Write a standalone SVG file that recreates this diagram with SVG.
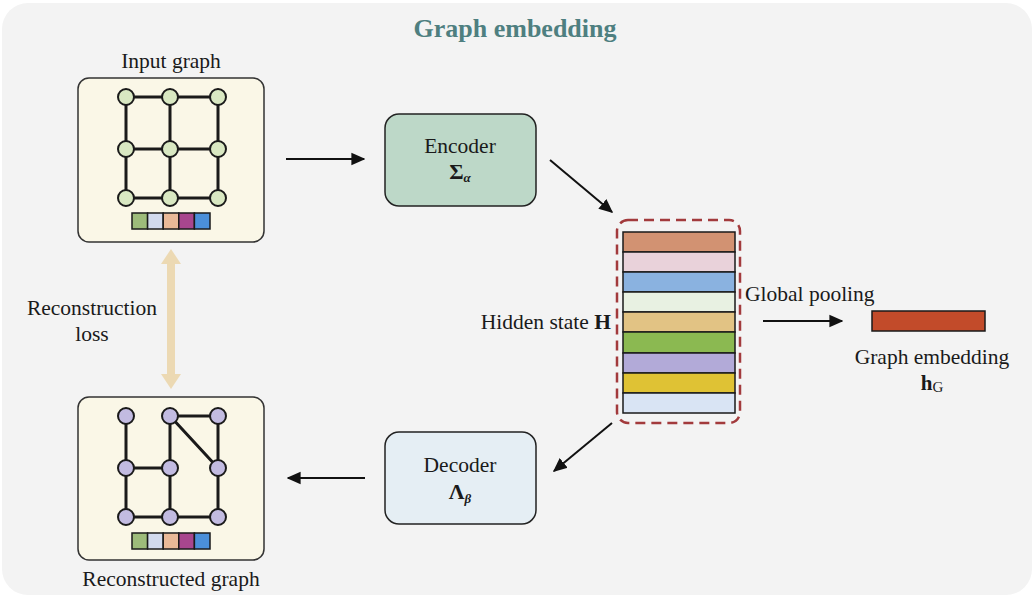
<svg xmlns="http://www.w3.org/2000/svg" width="1034" height="597" viewBox="0 0 1034 597">
<defs>
<style>
text{font-family:"Liberation Serif","Times New Roman",serif;fill:#1a1a1a;}
.lbl{font-size:21.5px;}
.gbox{fill:#faf7e7;stroke:#333;stroke-width:1.5;}
.edge{stroke:#1a1a1a;stroke-width:3;fill:none;}
.n1{fill:#d9e8c2;stroke:#1a1a1a;stroke-width:2;}
.n2{fill:#c2bbe1;stroke:#1a1a1a;stroke-width:2;}
.cell{stroke:#1a1a1a;stroke-width:1.5;}
.arr{stroke:#111;stroke-width:2;fill:none;marker-end:url(#ah);}
.stripe{stroke:#1a1a1a;stroke-width:1.5;}
</style>
<marker id="ah" viewBox="0 0 10 10" refX="9" refY="5" markerWidth="7" markerHeight="7" orient="auto" markerUnits="strokeWidth">
<path d="M0,0.5 L10,5 L0,9.5 z" fill="#111"/>
</marker>
</defs>
<rect x="2" y="3" width="1030" height="592" rx="26" fill="#f3f3f3"/>
<text x="515" y="37" text-anchor="middle" style="font-size:26px;font-weight:bold;fill:#4e7f80;">Graph embedding</text>

<g id="input-graph">
<text class="lbl" x="171" y="68" text-anchor="middle">Input graph</text>
<rect class="gbox" x="78" y="78" width="186" height="164" rx="11"/>
<path class="edge" d="M126,97H218M126,149H218M126,198H218M126,97V198M170,97V198M218,97V198"/>
<circle class="n1" cx="126" cy="97" r="8"/><circle class="n1" cx="170" cy="97" r="8"/><circle class="n1" cx="218" cy="97" r="8"/>
<circle class="n1" cx="126" cy="149" r="8"/><circle class="n1" cx="170" cy="149" r="8"/><circle class="n1" cx="218" cy="149" r="8"/>
<circle class="n1" cx="126" cy="198" r="8"/><circle class="n1" cx="170" cy="198" r="8"/><circle class="n1" cx="218" cy="198" r="8"/>
<rect class="cell" x="132" y="213" width="15.6" height="16" fill="#9dbb7a"/>
<rect class="cell" x="147.6" y="213" width="15.6" height="16" fill="#d2daee"/>
<rect class="cell" x="163.2" y="213" width="15.6" height="16" fill="#e9b998"/>
<rect class="cell" x="178.8" y="213" width="15.6" height="16" fill="#a8468e"/>
<rect class="cell" x="194.4" y="213" width="15.6" height="16" fill="#4b8fd9"/>
</g>

<g id="reconstructed-graph">
<rect class="gbox" x="78" y="397" width="186" height="163" rx="11"/>
<path class="edge" d="M126,416V517M170,416V517M218,416V517M126,468H170M126,517H218M170,416H218M170,416L218,468"/>
<circle class="n2" cx="126" cy="416" r="8"/><circle class="n2" cx="170" cy="416" r="8"/><circle class="n2" cx="218" cy="416" r="8"/>
<circle class="n2" cx="126" cy="468" r="8"/><circle class="n2" cx="170" cy="468" r="8"/><circle class="n2" cx="218" cy="468" r="8"/>
<circle class="n2" cx="126" cy="517" r="8"/><circle class="n2" cx="170" cy="517" r="8"/><circle class="n2" cx="218" cy="517" r="8"/>
<rect class="cell" x="132" y="533" width="15.6" height="16" fill="#9dbb7a"/>
<rect class="cell" x="147.6" y="533" width="15.6" height="16" fill="#d2daee"/>
<rect class="cell" x="163.2" y="533" width="15.6" height="16" fill="#e9b998"/>
<rect class="cell" x="178.8" y="533" width="15.6" height="16" fill="#a8468e"/>
<rect class="cell" x="194.4" y="533" width="15.6" height="16" fill="#4b8fd9"/>
<text class="lbl" x="171" y="586" text-anchor="middle">Reconstructed graph</text>
</g>

<g id="reconstruction-loss">
<text class="lbl" x="92" y="315" text-anchor="middle">Reconstruction</text>
<text class="lbl" x="92" y="341" text-anchor="middle">loss</text>
</g>

<g id="encoder">
<rect x="385" y="114" width="151" height="92" rx="14" fill="#bdd8c8" stroke="#222" stroke-width="1.5"/>
<text class="lbl" x="460" y="153" text-anchor="middle">Encoder</text>
<text x="460" y="179" text-anchor="middle" style="font-size:22px;font-weight:bold;">Σ<tspan dy="3" style="font-size:13px;font-style:italic;">α</tspan></text>
</g>

<g id="decoder">
<rect x="385" y="432" width="151" height="92" rx="14" fill="#e5eef4" stroke="#222" stroke-width="1.5"/>
<text class="lbl" x="460" y="472" text-anchor="middle">Decoder</text>
<text x="460" y="499" text-anchor="middle" style="font-size:22px;font-weight:bold;">Λ<tspan dy="4" style="font-size:13px;font-style:italic;">β</tspan></text>
</g>

<g id="hidden-state">
<rect x="617" y="220" width="123" height="203" rx="11" fill="none" stroke="#a23a3c" stroke-width="2.5" stroke-dasharray="10 6"/>
<rect class="stripe" x="623" y="232" width="112" height="20" fill="#d29272"/>
<rect class="stripe" x="623" y="252" width="112" height="20" fill="#e9d2da"/>
<rect class="stripe" x="623" y="272" width="112" height="20" fill="#8ab2e0"/>
<rect class="stripe" x="623" y="292" width="112" height="20" fill="#e8f1e2"/>
<rect class="stripe" x="623" y="312" width="112" height="20" fill="#e2c384"/>
<rect class="stripe" x="623" y="332" width="112" height="21" fill="#8bb951"/>
<rect class="stripe" x="623" y="353" width="112" height="20" fill="#b2aad8"/>
<rect class="stripe" x="623" y="373" width="112" height="20" fill="#dfc234"/>
<rect class="stripe" x="623" y="393" width="112" height="20" fill="#d9e4f4"/>
<text class="lbl" x="611" y="329" text-anchor="end">Hidden state <tspan style="font-weight:bold;">H</tspan></text>
</g>

<g id="graph-embedding">
<rect x="872" y="311" width="113" height="20" fill="#c24b2a" stroke="#1a1a1a" stroke-width="1.5"/>
<text class="lbl" x="932" y="364" text-anchor="middle">Graph embedding</text>
<text x="932" y="390" text-anchor="middle" style="font-size:21px;font-weight:bold;">h<tspan dy="2" style="font-size:15px;font-weight:normal;">G</tspan></text>
</g>

<g id="connectors">
<line class="arr" x1="286" y1="159" x2="364" y2="159"/>
<line class="arr" x1="550" y1="160" x2="612" y2="212"/>
<line class="arr" x1="612" y1="423" x2="554" y2="471"/>
<line class="arr" x1="365" y1="478" x2="288" y2="478"/>
<line class="arr" x1="763" y1="321" x2="842" y2="321"/>
<text class="lbl" x="745" y="301">Global pooling</text>
<g fill="#ecd9b3">
<rect x="167" y="262" width="8" height="114"/>
<path d="M171,249 L181,264 L161,264 z"/>
<path d="M171,389 L181,374 L161,374 z"/>
</g>
</g>
</svg>
